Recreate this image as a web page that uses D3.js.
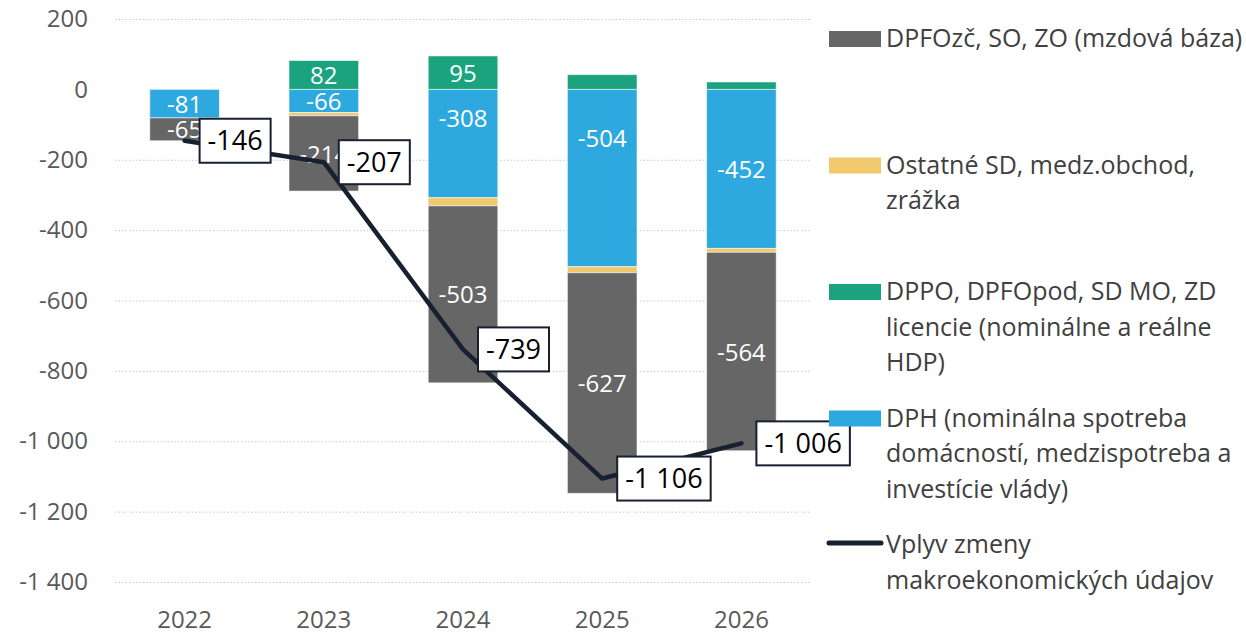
<!DOCTYPE html>
<html><head><meta charset="utf-8">
<script src="https://cdn.jsdelivr.net/npm/d3@7"></script>
<style>
body{margin:0;background:#fff}
text{font-family:"Open Sans",sans-serif}
</style>
</head><body>
<svg id="c" width="1246" height="635"></svg>
<script>
// ---- data ----
const years = ["2022", "2023", "2024", "2025", "2026"];
const wageBase = [-65, -214, -503, -627, -564];      // DPFOzč, SO, ZO (mzdová báza)
const otherTaxes = [0, -9, -23, -17, -11];           // Ostatné SD, medz.obchod, zrážka
const corporate = [0, 82, 95, 42, 21];               // DPPO, DPFOpod, SD MO, ZD licencie
const vat = [-81, -66, -308, -504, -452];            // DPH
const totalImpact = [-146, -207, -739, -1106, -1006];// Vplyv zmeny makroekonomických údajov
const yTickValues = [200, 0, -200, -400, -600, -800, -1000, -1200, -1400];

const legendLabels = [
  ["DPFOzč, SO, ZO (mzdová báza)"],
  ["Ostatné SD, medz.obchod,", "zrážka"],
  ["DPPO, DPFOpod, SD MO, ZD", "licencie (nominálne a reálne", "HDP)"],
  ["DPH (nominálna spotreba", "domácností, medzispotreba a", "investície vlády)"],
  ["Vplyv zmeny", "makroekonomických údajov"]
];

// ---- styles ----
const colors = {wage: "#666666", other: "#F2C86C", corp: "#1BA37F", vat: "#2EA9E0", line: "#17202F"};
const labelNudge = {"vat-2024": -26, "vat-2025": -40};

const fmt = d3.formatLocale({decimal: ",", thousands: "\u00a0", grouping: [3], currency: ["", ""], minus: "-"}).format(",d");

const svg = d3.select("#c");
const x = d3.scaleBand().domain(years).range([115, 811]).paddingInner(0.5).paddingOuter(0.25);
const y = d3.scaleLinear().domain([-1400, 200]).range([582, 19]);

const rows = years.map((yr, i) => ({year: yr, vat: vat[i], other: otherTaxes[i], wage: wageBase[i], corp: corporate[i]}));
const keys = ["vat", "other", "wage", "corp"];
const stacked = d3.stack().keys(keys).offset(d3.stackOffsetDiverging)(rows);

// gridlines
svg.append("g").selectAll("line").data(yTickValues.filter(v => v !== 0)).join("line")
  .attr("x1", 115).attr("x2", 811)
  .attr("y1", d => y(d) + 0.5).attr("y2", d => y(d) + 0.5)
  .attr("stroke", "#c8c8c8").attr("stroke-width", 1).attr("stroke-dasharray", "1.5,2");

// y axis
const yAxis = d3.axisLeft(y).tickValues(yTickValues).tickFormat(fmt).tickSize(0).tickPadding(0);
svg.append("g").attr("transform", "translate(88,0)").call(yAxis)
  .call(g => g.select(".domain").remove())
  .call(g => g.selectAll("text").attr("fill", "#595959").attr("font-size", 24).attr("font-family", "Open Sans"));

// x axis
const xAxis = d3.axisBottom(x).tickSize(0).tickPadding(0);
svg.append("g").attr("transform", "translate(0,611)").call(xAxis)
  .call(g => g.select(".domain").remove())
  .call(g => g.selectAll("text").attr("fill", "#595959").attr("font-size", 24).attr("font-family", "Open Sans"));

// bars
const layers = svg.append("g").selectAll("g").data(stacked).join("g").attr("fill", d => colors[d.key]);
layers.selectAll("rect").data(d => d.map(p => ({key: d.key, p}))).join("rect")
  .attr("x", d => x(d.p.data.year))
  .attr("width", x.bandwidth())
  .attr("y", d => y(Math.max(d.p[0], d.p[1])))
  .attr("height", d => Math.abs(y(d.p[0]) - y(d.p[1])))
  .attr("stroke", "rgba(255,255,255,0.55)").attr("stroke-width", 1);

// bar labels
const barLabels = [];
stacked.forEach(s => s.forEach(p => {
  const v = p.data[s.key];
  if (Math.abs(v) >= 50) barLabels.push({key: s.key, year: p.data.year, v, mid: (p[0] + p[1]) / 2});
}));
svg.append("g").selectAll("text").data(barLabels).join("text")
  .attr("x", d => x(d.year) + x.bandwidth() / 2)
  .attr("y", d => y(d.mid) + (labelNudge[d.key + "-" + d.year] || 0))
  .attr("dy", "0.38em")
  .attr("text-anchor", "middle")
  .attr("fill", "#fff").attr("font-size", 24)
  .text(d => fmt(d.v));

// line
const pts = years.map((yr, i) => ({year: yr, v: totalImpact[i]}));
const line = d3.line().x(d => x(d.year) + x.bandwidth() / 2).y(d => y(d.v));
svg.append("path").datum(pts).attr("d", line)
  .attr("fill", "none").attr("stroke", colors.line).attr("stroke-width", 4.5)
  .attr("stroke-linejoin", "round").attr("stroke-linecap", "round");

// line labels
const ll = svg.append("g").selectAll("g").data(pts).join("g")
  .attr("transform", d => `translate(${x(d.year) + x.bandwidth() / 2 + 15},${y(d.v)})`);
ll.each(function(d) {
  const g = d3.select(this);
  const t = g.append("text").attr("x", 8).attr("dy", "0.36em").attr("fill", "#000")
    .attr("font-size", 27).text(fmt(d.v));
  const w = t.node().getComputedTextLength();
  g.insert("rect", "text").attr("x", 0).attr("y", -22).attr("width", w + 16).attr("height", 44)
    .attr("fill", "#fff").attr("stroke", colors.line).attr("stroke-width", 2);
});

// legend
const legKeys = ["wage", "other", "corp", "vat", "line"];
const leg = svg.append("g").selectAll("g").data(legKeys).join("g")
  .attr("transform", (d, i) => `translate(0,${47 + i * 126.5})`);
leg.each(function(k, i) {
  const g = d3.select(this);
  if (k === "line") {
    g.append("line").attr("x1", 829).attr("x2", 881).attr("y1", -10).attr("y2", -10)
      .attr("stroke", colors.line).attr("stroke-width", 5).attr("stroke-linecap", "round");
  } else {
    g.append("rect").attr("x", 829).attr("y", -16).attr("width", 52).attr("height", 16).attr("fill", colors[k]);
  }
  const t = g.append("text").attr("fill", "#404040").attr("font-size", 25);
  legendLabels[i].forEach((s, j) => t.append("tspan").attr("x", 886).attr("y", j * 35.5).text(s));
});
</script>
</body></html>
